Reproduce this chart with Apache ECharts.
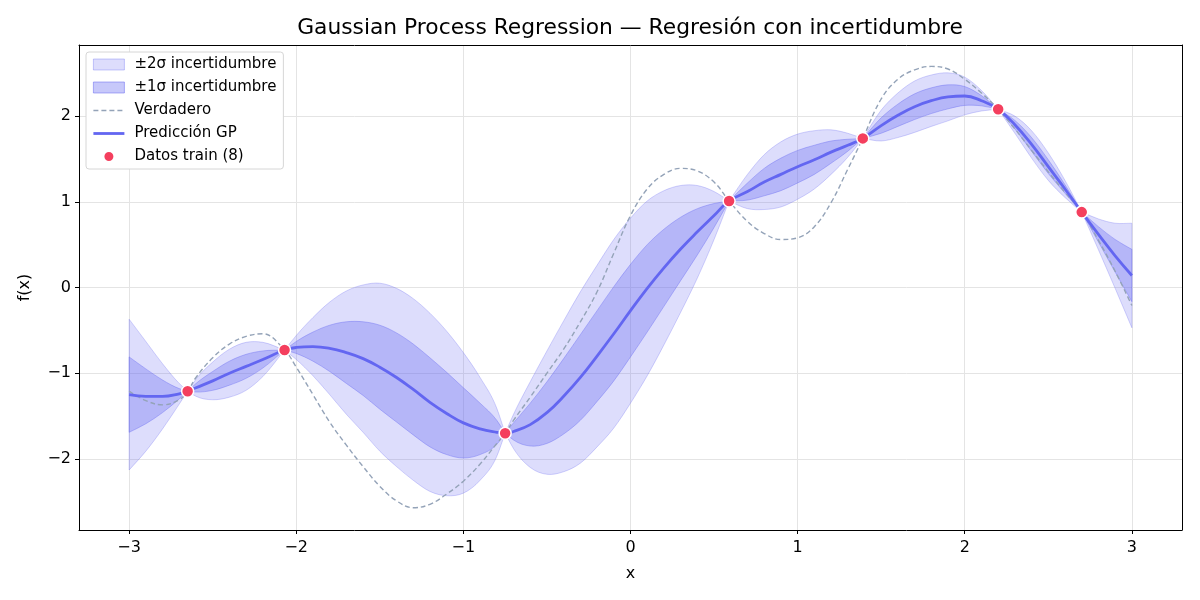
<!DOCTYPE html>
<html><head><meta charset="utf-8">
<script src="https://cdn.jsdelivr.net/npm/echarts@6/dist/echarts.min.js"></script>
<style>html,body{margin:0;padding:0;background:#fff}#c{width:1200px;height:600px}</style>
</head><body><div id="c"></div>
<script>
// x grid (training x positions included so the bands pinch at the data)
const xs = [
  -3.0, -2.9, -2.8, -2.7, -2.65, -2.6, -2.5, -2.4, -2.3, -2.2, -2.07,
  -2.0, -1.9, -1.8, -1.7, -1.6, -1.5, -1.4, -1.3, -1.2, -1.1, -1.0, -0.9, -0.8, -0.75,
  -0.7, -0.6, -0.5, -0.4, -0.3, -0.2, -0.1, 0.0, 0.1, 0.2, 0.3, 0.4, 0.5, 0.59,
  0.7, 0.8, 0.9, 1.0, 1.1, 1.2, 1.3, 1.39,
  1.5, 1.6, 1.7, 1.8, 1.9, 2.0, 2.1, 2.2,
  2.3, 2.4, 2.5, 2.6, 2.7, 2.8, 2.9, 3.0
];
// GP posterior mean
const gpMean = [
  -1.25, -1.27, -1.27, -1.24, -1.21, -1.17, -1.09, -1.00, -0.92, -0.84, -0.73,
  -0.70, -0.69, -0.71, -0.76, -0.83, -0.93, -1.05, -1.19, -1.34, -1.47, -1.58, -1.65, -1.69, -1.70,
  -1.68, -1.60, -1.46, -1.27, -1.05, -0.80, -0.54, -0.27, -0.01, 0.23, 0.45, 0.65, 0.84, 1.01,
  1.12, 1.23, 1.32, 1.41, 1.49, 1.58, 1.66, 1.74,
  1.89, 2.01, 2.11, 2.18, 2.225, 2.235, 2.18, 2.08,
  1.90, 1.67, 1.41, 1.15, 0.88, 0.62, 0.37, 0.14
];
// GP posterior standard deviation
const gpSigma = [
  0.44, 0.32, 0.19, 0.06, 0.00, 0.05, 0.11, 0.14, 0.14, 0.10, 0.00,
  0.07, 0.17, 0.27, 0.36, 0.43, 0.49, 0.52, 0.53, 0.52, 0.48, 0.41, 0.30, 0.14, 0.00,
  0.10, 0.25, 0.36, 0.44, 0.50, 0.53, 0.55, 0.54, 0.51, 0.45, 0.37, 0.27, 0.14, 0.00,
  0.10, 0.16, 0.19, 0.19, 0.17, 0.13, 0.07, 0.00,
  0.09, 0.13, 0.15, 0.15, 0.14, 0.11, 0.06, 0.00,
  0.05, 0.08, 0.08, 0.05, 0.00, 0.09, 0.19, 0.305
];
// true function
const trueF = [
  -1.21, -1.32, -1.37, -1.31, -1.21, -1.05, -0.82, -0.66, -0.57, -0.54, -0.73,
  -0.93, -1.25, -1.57, -1.84, -2.09, -2.32, -2.49, -2.57, -2.53, -2.41, -2.26, -2.06, -1.82, -1.70,
  -1.55, -1.28, -1.00, -0.72, -0.40, -0.05, 0.40, 0.84, 1.15, 1.32, 1.39, 1.36, 1.23, 1.01,
  0.77, 0.63, 0.56, 0.58, 0.71, 0.99, 1.38, 1.74,
  2.20, 2.43, 2.54, 2.58, 2.55, 2.43, 2.27, 2.08,
  1.85, 1.60, 1.35, 1.11, 0.88, 0.55, 0.19, -0.21
];
// training data
const trainX = [-2.65, -2.07, -0.75, 0.59, 1.39, 2.2, 2.7];
const trainY = [-1.21, -0.73, -1.70, 1.01, 1.74, 2.08, 0.88];
// ticks
const xTicks = [-3, -2, -1, 0, 1, 2, 3];
const yTicks = [-2, -1, 0, 1, 2];

const meanData = xs.map((x, i) => [x, gpMean[i]]);
const trueData = xs.map((x, i) => [x, trueF[i]]);
const trainData = trainX.map((x, i) => [x, trainY[i]]);

const fmt = v => (v < 0 ? '\u2212' + Math.abs(v) : String(v));
const FONT = 'DejaVu Sans';
const C = '99,102,241';

// cubic Hermite curve through pixel points; one-sided tangents where kink[i] is set
function curveThrough(pts, kink) {
  const n = pts.length;
  const sl = (a, b) => (pts[b][1] - pts[a][1]) / (pts[b][0] - pts[a][0]);
  const tin = [], tout = [];
  for (let i = 0; i < n; i++) {
    const l = i > 0 ? sl(i - 1, i) : null;
    const r = i < n - 1 ? sl(i, i + 1) : null;
    if (l === null) { tin[i] = tout[i] = r; continue; }
    if (r === null) { tin[i] = tout[i] = l; continue; }
    if (kink[i]) { tin[i] = l; tout[i] = r; continue; }
    const hl = pts[i][0] - pts[i - 1][0], hr = pts[i + 1][0] - pts[i][0];
    tin[i] = tout[i] = (l * hr + r * hl) / (hl + hr);
  }
  let d = '';
  for (let i = 0; i < n - 1; i++) {
    const h = pts[i + 1][0] - pts[i][0];
    const c1 = [pts[i][0] + h / 3, pts[i][1] + tout[i] * h / 3];
    const c2 = [pts[i + 1][0] - h / 3, pts[i + 1][1] - tin[i + 1] * h / 3];
    d += ' C' + c1[0] + ',' + c1[1] + ' ' + c2[0] + ',' + c2[1] + ' ' + pts[i + 1][0] + ',' + pts[i + 1][1];
  }
  return d;
}

// band between mean - k*sigma and mean + k*sigma, placed through the axes' scales
function band(name, k, fill, stroke, z) {
  return {
    type: 'custom', name: name, z: z, silent: true, data: [0],
    itemStyle: { color: fill },
    renderItem: function (params, api) {
      const kink = gpSigma.map(s => s === 0);
      const up = xs.map((x, i) => api.coord([x, gpMean[i] + k * gpSigma[i]]));
      const lo = xs.map((x, i) => api.coord([x, gpMean[i] - k * gpSigma[i]])).reverse();
      const kinkR = kink.slice().reverse();
      const d = 'M' + up[0][0] + ',' + up[0][1] + curveThrough(up, kink) +
        ' L' + lo[0][0] + ',' + lo[0][1] + curveThrough(lo, kinkR) + ' Z';
      return {
        type: 'path',
        shape: { pathData: d },
        style: { fill: fill, stroke: stroke, lineWidth: 1 }
      };
    }
  };
}

const chart = echarts.init(document.getElementById('c'), null, { renderer: 'canvas' });
chart.setOption({
  animation: false,
  backgroundColor: '#fff',
  textStyle: { fontFamily: FONT },
  title: {
    text: 'Gaussian Process Regression \u2014 Regresi\u00f3n con incertidumbre',
    left: 630, top: 17, textAlign: 'center', padding: 0,
    textStyle: { fontFamily: FONT, fontSize: 21.8, fontWeight: 'normal', color: '#000' }
  },
  grid: { left: 79, top: 45, right: 18, bottom: 70, containLabel: false },
  legend: {
    orient: 'vertical', left: 86, top: 52,
    padding: [5, 7, 5, 6], itemGap: 8, itemWidth: 31, itemHeight: 11,
    backgroundColor: '#fff', borderColor: '#d6d6d6', borderWidth: 1, borderRadius: 3,
    textStyle: { fontFamily: FONT, fontSize: 15, color: '#000', padding: [0, 0, 0, 5] },
    data: [
      { name: '\u00b12\u03c3 incertidumbre', icon: 'rect',
        itemStyle: { color: `rgba(${C},0.22)`, borderColor: `rgba(${C},0.35)`, borderWidth: 1 } },
      { name: '\u00b11\u03c3 incertidumbre', icon: 'rect',
        itemStyle: { color: `rgba(${C},0.36)`, borderColor: `rgba(${C},0.5)`, borderWidth: 1 } },
      { name: 'Verdadero', itemStyle: { opacity: 0 }, lineStyle: { width: 1.5 } },
      { name: 'Predicci\u00f3n GP', itemStyle: { opacity: 0 }, lineStyle: { width: 2.8 } },
      { name: 'Datos train (8)', icon: 'circle' }
    ]
  },
  xAxis: [{
    type: 'value', min: -3.3, max: 3.3,
    axisLine: { show: true, onZero: false, lineStyle: { color: '#000', width: 1 } },
    axisTick: { show: true, customValues: xTicks, length: 4, lineStyle: { color: '#000', width: 1 } },
    axisLabel: { customValues: xTicks, formatter: fmt, color: '#000', fontSize: 16, margin: 10, fontFamily: FONT },
    splitLine: { show: true, lineStyle: { color: '#e4e4e4', width: 1 } },
    name: 'x', nameLocation: 'middle', nameGap: 36,
    nameTextStyle: { fontSize: 16, color: '#000', fontFamily: FONT }
  }, {
    type: 'value', min: -3.3, max: 3.3, position: 'top',
    axisLine: { show: true, onZero: false, lineStyle: { color: '#000', width: 1 } },
    axisTick: { show: false }, axisLabel: { show: false }, splitLine: { show: false }
  }],
  yAxis: [{
    type: 'value', min: -2.83, max: 2.83,
    axisLine: { show: true, onZero: false, lineStyle: { color: '#000', width: 1 } },
    axisTick: { show: true, customValues: yTicks, length: 4, lineStyle: { color: '#000', width: 1 } },
    axisLabel: { customValues: yTicks, formatter: fmt, color: '#000', fontSize: 16, margin: 8, fontFamily: FONT },
    splitLine: { show: true, lineStyle: { color: '#e4e4e4', width: 1 } },
    name: 'f(x)', nameLocation: 'middle', nameGap: 46,
    nameTextStyle: { fontSize: 16, color: '#000', fontFamily: FONT }
  }, {
    type: 'value', min: -2.83, max: 2.83, position: 'right',
    axisLine: { show: true, onZero: false, lineStyle: { color: '#000', width: 1 } },
    axisTick: { show: false }, axisLabel: { show: false }, splitLine: { show: false }
  }],
  series: [
    band('\u00b12\u03c3 incertidumbre', 2, `rgba(${C},0.22)`, `rgba(${C},0.28)`, 1),
    band('\u00b11\u03c3 incertidumbre', 1, `rgba(${C},0.33)`, `rgba(${C},0.38)`, 2),
    { type: 'line', name: 'Verdadero', data: trueData, symbol: 'none', smooth: 0.4, z: 3,
      itemStyle: { color: '#94a3b8' },
      lineStyle: { color: '#94a3b8', width: 1.4, type: [5, 3] } },
    { type: 'line', name: 'Predicci\u00f3n GP', data: meanData, symbol: 'none', smooth: 0.45, z: 4,
      itemStyle: { color: '#6366f1' },
      lineStyle: { color: '#6366f1', width: 2.8 } },
    { type: 'scatter', name: 'Datos train (8)', data: trainData, symbolSize: 12, z: 5,
      itemStyle: { color: '#f43f5e', borderColor: '#fff', borderWidth: 1.5, opacity: 1 } }
  ]
});
</script>
</body></html>
